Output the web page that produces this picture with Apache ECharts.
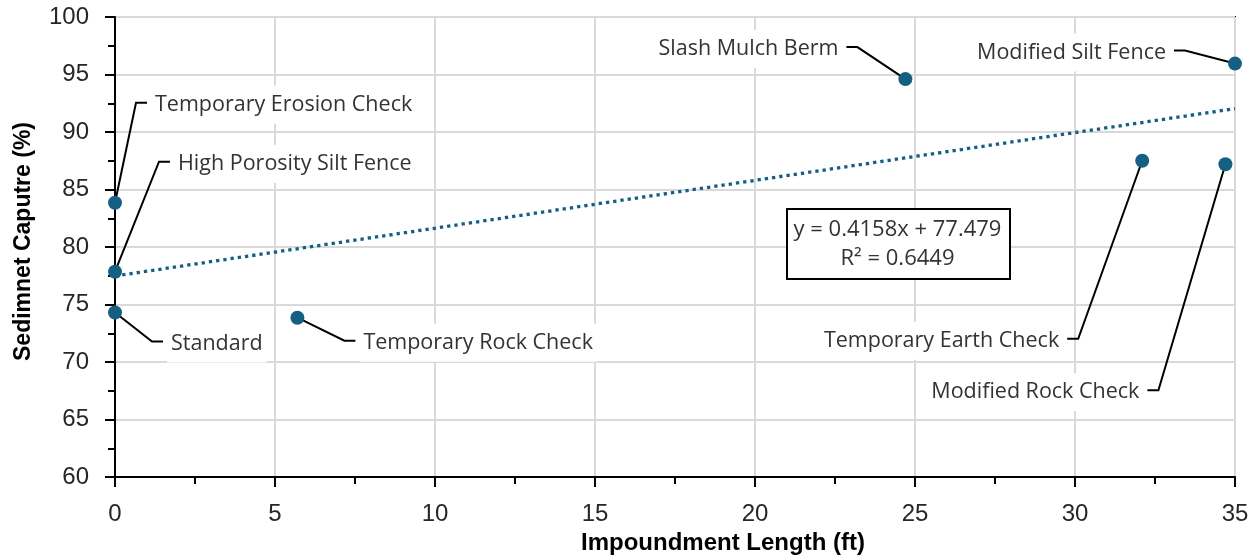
<!DOCTYPE html>
<html><head><meta charset="utf-8">
<script src="https://cdn.jsdelivr.net/npm/echarts@6/dist/echarts.min.js"></script>
<style>html,body{margin:0;padding:0;background:#fff}#c{width:1260px;height:558px}</style>
</head><body><div id="c"></div>
<script>
// ---- data ----
const names = ['Temporary Erosion Check','High Porosity Silt Fence','Standard','Temporary Rock Check','Slash Mulch Berm','Modified Silt Fence','Temporary Earth Check','Modified Rock Check'];
const lengths = [0, 0, 0, 5.7, 24.7, 35, 32.1, 34.7];
const captures = [83.85, 77.85, 74.3, 73.85, 94.6, 95.95, 87.5, 87.2];
const trendSlope = 0.4158;
const trendIntercept = 77.479;
const trendRange = [0, 35];
const eqLines = ['y = 0.4158x + 77.479', 'R² = 0.6449'];

// ---- layout (leader elbow offsets in px from the point, label side) ----
const leaders = [[21,-100,'r'],[44,-110,'r'],[37,29,'r'],[47,23,'r'],[-48,-32,'l'],[-50,-13,'l'],[-64,178,'l'],[-67,226,'l']];

const C = '#156082';
const FONT_AX = '"Liberation Sans", Arial, sans-serif';
const LABEL_FONT = '21.5px "Open Sans"';
const chart = echarts.init(document.getElementById('c'), null, {renderer:'canvas'});
const axisCommon = {
  type:'value',
  axisLine:{show:true, onZero:false, lineStyle:{color:'#000', width:2}},
  axisTick:{show:true, inside:false, length:10, lineStyle:{color:'#000', width:2}},
  minorTick:{show:true, splitNumber:2, length:7, lineStyle:{color:'#000', width:2}},
  splitLine:{show:true, lineStyle:{color:'#d9d9d9', width:2}},
  axisLabel:{fontSize:24, color:'#262626', fontFamily:FONT_AX, showMinLabel:true, showMaxLabel:true, hideOverlap:false},
  nameLocation:'middle'
};
chart.setOption({
  animation:false,
  backgroundColor:'#fff',
  grid:{left:115, right:25, top:17, bottom:81, show:true, borderColor:'#000', borderWidth:2, backgroundColor:'transparent', containLabel:false, outerBoundsMode:'none'},
  xAxis:Object.assign({}, axisCommon, {min:0, max:35, interval:5, name:'Impoundment Length (ft)', nameGap:51,
    nameTextStyle:{fontWeight:'bold', fontSize:24, fontFamily:FONT_AX, color:'#000', padding:[0,0,0,96]},
    axisLabel:Object.assign({}, axisCommon.axisLabel, {margin:25})}),
  yAxis:Object.assign({}, axisCommon, {min:60, max:100, interval:5, name:'Sedimnet Caputre (%)', nameGap:80,
    nameTextStyle:{fontWeight:'bold', fontSize:23, fontFamily:FONT_AX, color:'#000', padding:[0,0,0,11]},
    axisLabel:Object.assign({}, axisCommon.axisLabel, {margin:26})}),
  series:[
    {type:'line', data:[[trendRange[0], trendSlope*trendRange[0]+trendIntercept],[trendRange[1], trendSlope*trendRange[1]+trendIntercept]],
     symbol:'none', z:2, lineStyle:{color:C, width:3.3, type:[3.3,4]}, silent:true},
    {type:'custom', z:3, data:lengths.map((x,i)=>[x, captures[i]]), clip:false,
     renderItem:function(params, api){
       const i = params.dataIndex;
       const p = api.coord([api.value(0), api.value(1)]);
       const L = leaders[i];
       const ex = p[0]+L[0], ey = p[1]+L[1];
       const s = L[2]==='r' ? 1 : -1;
       const hx = ex + s*11;
       return {type:'group', children:[
         {type:'polyline', shape:{points:[p,[ex,ey],[hx,ey]]}, style:{stroke:'#000', lineWidth:2, fill:null}},
         {type:'text', x:hx + s*4, y:ey+2, style:{text:names[i], font:LABEL_FONT, fill:'#333', align:s>0?'left':'right', verticalAlign:'middle', backgroundColor:'#fff', padding:[8,4]}}
       ]};
     }},
    {type:'scatter', z:4, data:lengths.map((x,i)=>[x, captures[i]]), symbolSize:14, itemStyle:{color:C, opacity:1}, clip:false}
  ],
  graphic:[
    {type:'rect', left:786, top:208, z:100, shape:{x:0, y:0, width:223, height:70}, style:{fill:'#ffffff', stroke:'#000', lineWidth:2}},
    {type:'text', x:897.5, y:230, z:101, style:{text:eqLines[0], font:'22px "Open Sans"', fill:'#333', align:'center', verticalAlign:'middle'}},
    {type:'text', x:897.5, y:259, z:101, style:{text:eqLines[1], font:'22px "Open Sans"', fill:'#333', align:'center', verticalAlign:'middle'}}
  ]
});
</script></body></html>
